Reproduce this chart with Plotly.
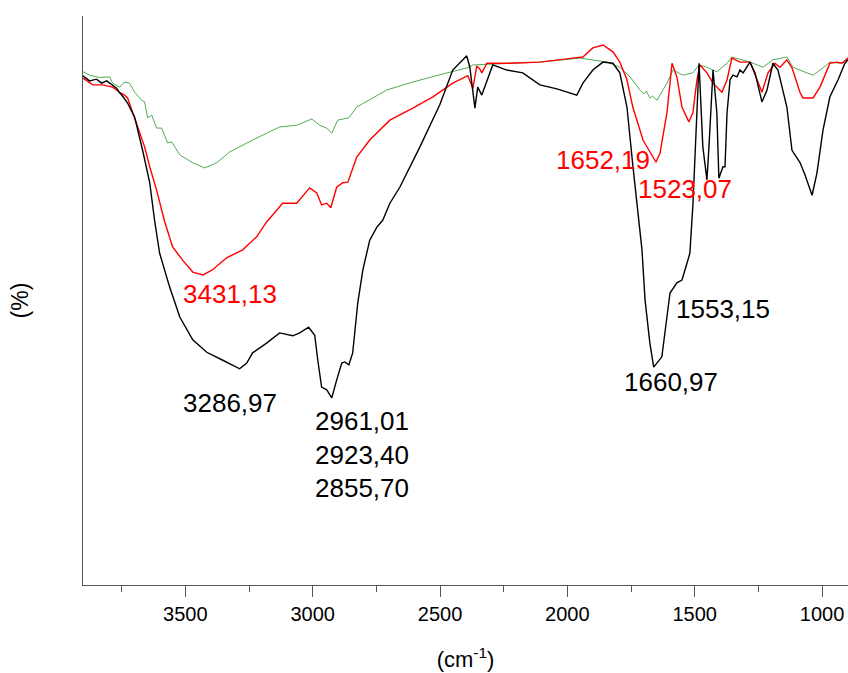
import plotly.graph_objects as go

# Wavenumber (cm-1) and relative transmittance (%)
black_wn = [3902, 3876, 3849, 3829, 3809, 3790, 3770, 3758, 3746, 3727, 3699, 3668, 3640, 3621, 3601,
            3562, 3522, 3471, 3416, 3353, 3287, 3259, 3236, 3181, 3130, 3078, 3051, 3016, 2992, 2980,
            2965, 2945, 2925, 2906, 2886, 2874, 2858, 2843, 2823, 2803, 2776, 2748, 2725, 2697, 2658,
            2579, 2501, 2450, 2395, 2383, 2363, 2352, 2336, 2293, 2238, 2175, 2108, 2041, 1963, 1939,
            1900, 1860, 1821, 1794, 1766, 1743, 1723, 1707, 1695, 1676, 1661, 1629, 1609, 1597, 1570,
            1550, 1530, 1519, 1507, 1495, 1483, 1468, 1452, 1444, 1428, 1413, 1405, 1389, 1381, 1373,
            1361, 1350, 1334, 1322, 1310, 1283, 1263, 1236, 1216, 1193, 1173, 1138, 1118, 1086, 1067,
            1039, 1020, 996, 969, 937, 910, 898]
black_t = [89.5, 88.6, 88.9, 88.2, 88.6, 87.9, 87.3, 86.5, 85.9, 84.7, 82.2, 76.4, 70.7, 64.1, 58.3,
           52.4, 47.1, 43.1, 40.9, 39.5, 38.0, 39.0, 40.8, 42.5, 44.3, 43.8, 44.3, 45.3, 43.9, 39.5,
           34.8, 34.3, 32.9, 36.0, 39.0, 39.2, 38.7, 40.8, 49.6, 55.4, 60.6, 62.9, 64.1, 67.1, 69.9,
           77.0, 84.4, 90.5, 93.0, 91.0, 83.8, 87.5, 86.1, 91.4, 90.5, 90.0, 87.9, 87.2, 86.1, 88.2,
           90.5, 91.9, 91.7, 90.0, 84.0, 73.8, 65.4, 58.9, 50.1, 42.5, 38.3, 40.1, 47.1, 51.3, 53.1,
           53.6, 56.6, 58.3, 66.8, 78.2, 91.7, 77.0, 71.2, 77.0, 90.5, 83.0, 71.5, 73.5, 73.5, 83.0,
           88.8, 89.6, 89.3, 90.5, 90.0, 91.9, 90.0, 84.9, 87.0, 91.7, 90.5, 84.0, 76.4, 74.2, 72.1,
           68.5, 72.4, 80.0, 85.8, 88.8, 91.7, 92.3]

red_wn = [3902, 3864, 3825, 3786, 3758, 3739, 3727, 3707, 3660, 3640, 3613, 3581, 3550, 3511, 3471,
          3431, 3393, 3338, 3275, 3220, 3181, 3118, 3063, 3012, 2984, 2965, 2945, 2929, 2906, 2882,
          2862, 2827, 2776, 2697, 2607, 2528, 2450, 2391, 2371, 2356, 2344, 2336, 2316, 2238, 2108,
          1978, 1939, 1900, 1860, 1821, 1794, 1766, 1743, 1703, 1652, 1636, 1609, 1589, 1570, 1550,
          1530, 1523, 1507, 1491, 1479, 1452, 1428, 1393, 1373, 1354, 1322, 1283, 1255, 1236, 1212,
          1185, 1165, 1138, 1118, 1086, 1075, 1035, 1008, 969, 941, 921, 898]
red_t = [89.1, 87.9, 87.9, 87.5, 86.6, 86.1, 85.6, 83.0, 77.0, 73.5, 69.4, 63.8, 59.4, 57.1, 55.0,
         54.5, 55.4, 57.5, 58.9, 61.2, 63.8, 67.1, 67.1, 69.8, 68.9, 66.8, 67.1, 66.3, 69.9, 70.7,
         70.8, 75.2, 78.2, 81.7, 83.8, 85.8, 88.2, 89.5, 87.3, 91.2, 90.7, 90.0, 91.7, 91.7, 91.9,
         92.6, 92.8, 94.4, 94.9, 93.7, 91.9, 88.8, 84.0, 78.2, 74.3, 75.9, 83.0, 91.7, 89.3, 84.0,
         82.2, 81.4, 83.0, 88.8, 91.4, 90.0, 88.2, 86.6, 88.8, 92.6, 91.9, 91.9, 88.8, 86.6, 90.0,
         91.7, 91.0, 92.3, 90.9, 86.5, 85.6, 85.6, 87.5, 91.7, 91.9, 91.7, 92.6]

green_wn = [3902, 3876, 3837, 3797, 3786, 3758, 3739, 3719, 3699, 3672, 3660, 3648, 3632, 3613, 3593,
            3570, 3554, 3534, 3522, 3471, 3424, 3377, 3326, 3236, 3130, 3063, 3004, 2972, 2945, 2925,
            2902, 2858, 2827, 2709, 2607, 2473, 2391, 2371, 2238, 2108, 1951, 1845, 1794, 1754, 1715,
            1700, 1690, 1676, 1665, 1648, 1609, 1585, 1546, 1507, 1483, 1452, 1413, 1373, 1354, 1283,
            1232, 1193, 1138, 1114, 1059, 1035, 996, 969, 929, 898]
green_t = [90.2, 89.6, 89.2, 89.3, 88.2, 87.5, 88.4, 88.2, 86.6, 85.2, 84.9, 82.1, 82.6, 80.3, 80.3,
           77.7, 77.9, 76.4, 75.6, 74.2, 73.3, 74.2, 76.1, 78.2, 80.5, 80.8, 81.9, 80.8, 80.3, 79.4,
           81.7, 82.1, 84.0, 87.0, 88.4, 90.0, 90.9, 91.4, 91.7, 91.9, 92.6, 91.9, 91.0, 89.3, 87.0,
           86.3, 86.8, 85.6, 85.9, 85.2, 88.2, 90.5, 89.6, 90.0, 91.4, 91.0, 90.2, 91.7, 92.8, 91.9,
           91.0, 92.3, 92.8, 91.0, 90.0, 89.6, 90.9, 91.9, 91.7, 92.3]

# Peak labels: (text, wavenumber, transmittance, colour)
peak_text = ["3431,13", "3286,97", "2961,01", "2923,40", "2855,70",
             "1652,19", "1523,07", "1553,15", "1660,97"]
peak_wn = [3326, 3326, 2807, 2807, 2807, 1860, 1538, 1389, 1593]
peak_t = [51.1, 32.0, 28.8, 22.8, 17.0, 74.7, 69.6, 48.5, 35.7]
peak_color = ["#ff0000", "#000000", "#000000", "#000000", "#000000",
              "#ff0000", "#ff0000", "#000000", "#000000"]

FONT = "Liberation Sans, Arial, sans-serif"

fig = go.Figure()
fig.add_trace(go.Scatter(x=green_wn, y=green_t, mode="lines",
                         line=dict(color="#3f9f3f", width=0.9), showlegend=False))
fig.add_trace(go.Scatter(x=red_wn, y=red_t, mode="lines",
                         line=dict(color="#ff0000", width=1.4), showlegend=False))
fig.add_trace(go.Scatter(x=black_wn, y=black_t, mode="lines",
                         line=dict(color="#000000", width=1.4), showlegend=False))

for txt, xw, yt, col in zip(peak_text, peak_wn, peak_t, peak_color):
    fig.add_annotation(x=xw, y=yt, text=txt, showarrow=False, xref="x", yref="y",
                       xanchor="center", yanchor="middle",
                       font=dict(family=FONT, size=26, color=col))

fig.update_layout(
    width=848, height=673,
    margin=dict(l=83, r=0, t=16, b=88),
    paper_bgcolor="white", plot_bgcolor="white",
    font=dict(family=FONT, color="black"),
    xaxis=dict(
        range=[3902, 898], showgrid=False, zeroline=False,
        showline=True, linecolor="#555555", linewidth=1.2,
        ticks="outside", ticklen=11, tickwidth=1, tickcolor="#555555",
        tick0=1000, dtick=500,
        minor=dict(ticks="outside", ticklen=6, tickwidth=1, tickcolor="#555555", dtick=250, showgrid=False),
        tickfont=dict(family=FONT, size=20, color="black"),
        title=dict(text="(cm<sup>-1</sup>)", font=dict(family=FONT, size=22, color="black"), standoff=27),
    ),
    yaxis=dict(
        range=[0, 100], showgrid=False, zeroline=False,
        showline=True, linecolor="#555555", linewidth=1.2,
        ticks="", showticklabels=False,
        title=dict(text="(%)", font=dict(family=FONT, size=23, color="black"), standoff=46),
    ),
)

fig.write_html("out.html", config={"displayModeBar": False},
               post_script="document.body.style.margin='0px';document.body.style.overflow='hidden';")
